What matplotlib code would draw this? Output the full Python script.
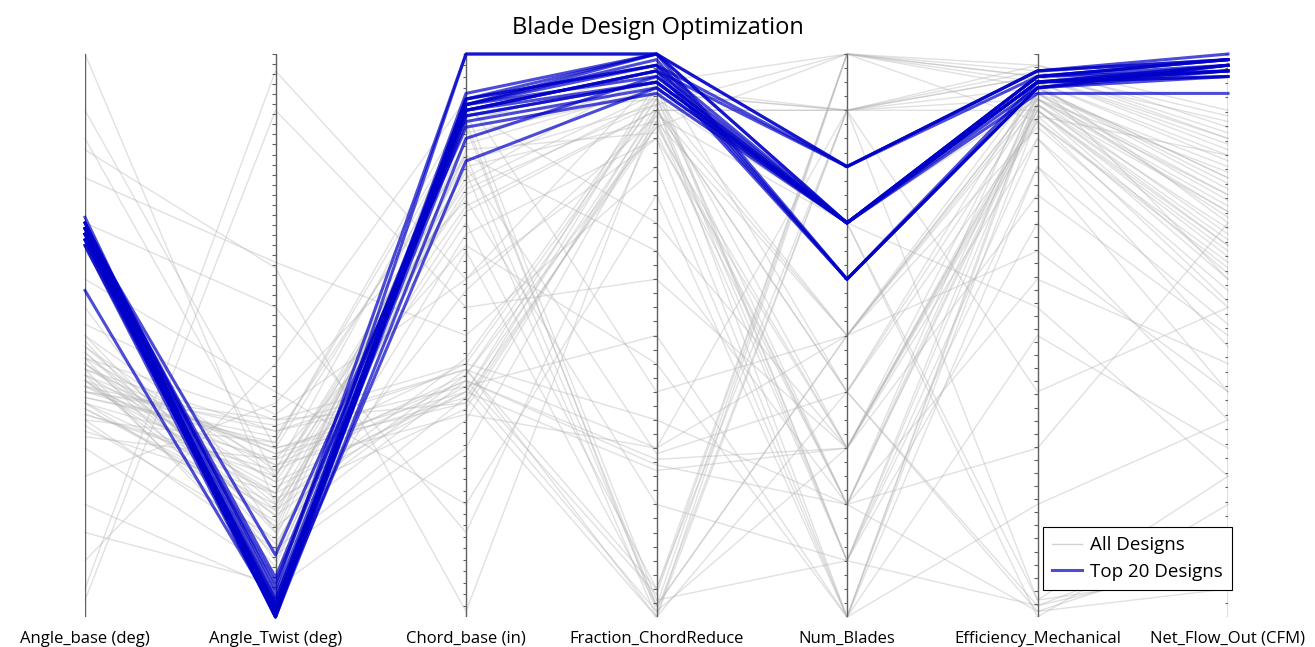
import numpy as np
import matplotlib.pyplot as plt
from matplotlib.lines import Line2D

# parallel-coordinates chart, every axis already scaled to 0..1
axis_names = ['Angle_base (deg)', 'Angle_Twist (deg)', 'Chord_base (in)',
              'Fraction_ChordReduce', 'Num_Blades', 'Efficiency_Mechanical',
              'Net_Flow_Out (CFM)']

# all designs (grey)
all_angle_base = [0.42, 0.45, 0.38, 0.48, 0.40, 1.00, 0.83, 0.05, 0.35, 0.44,
                  0.50, 0.41, 0.37, 0.46, 0.30, 0.55, 0.78, 0.03, 0.43, 0.39,
                  0.47, 0.36, 0.20, 0.42, 0.60, 0.44, 0.33, 0.49, 0.40, 0.10,
                  0.45, 0.38, 0.90, 0.41, 0.52, 0.34, 0.46, 0.25, 0.43, 0.39,
                  0.48, 0.36, 0.70, 0.42, 0.44, 0.32, 0.47, 0.15, 0.40, 0.45,
                  0.37, 0.50, 0.41, 0.65, 0.38, 0.43, 0.85, 0.46, 0.35, 0.42]
all_twist = [0.22, 0.18, 0.28, 0.25, 0.30, 0.20, 0.62, 0.97, 0.12, 0.33,
             0.15, 0.27, 0.20, 0.35, 0.08, 0.10, 0.63, 0.90, 0.24, 0.31,
             0.19, 0.26, 0.05, 0.16, 0.40, 0.29, 0.22, 0.13, 0.34, 0.45,
             0.21, 0.17, 0.30, 0.23, 0.36, 0.14, 0.27, 0.38, 0.11, 0.32,
             0.20, 0.25, 0.55, 0.30, 0.09, 0.28, 0.16, 0.06, 0.35, 0.24,
             0.19, 0.26, 0.33, 0.15, 0.22, 0.29, 0.25, 0.12, 0.31, 0.18]
all_chord = [0.40, 0.82, 0.42, 0.75, 0.38, 0.70, 0.01, 0.60, 0.85, 0.44,
             0.90, 0.36, 0.78, 0.45, 0.65, 0.80, 0.50, 0.55, 0.40, 0.88,
             0.72, 0.42, 0.30, 0.86, 0.20, 0.39, 0.76, 0.68, 0.44, 0.92,
             0.37, 0.80, 0.84, 0.41, 0.60, 0.87, 0.43, 0.74, 0.35, 0.82,
             0.46, 0.79, 0.15, 0.40, 0.89, 0.66, 0.42, 0.83, 0.38, 0.73,
             0.44, 0.88, 0.41, 0.58, 0.81, 0.45, 0.77, 0.39, 0.90, 0.43]
all_fraction = [0.90, 0.02, 0.28, 0.92, 0.88, 0.05, 0.90, 0.85, 0.95, 0.00,
                0.70, 0.30, 0.97, 0.92, 0.02, 0.88, 0.80, 0.60, 0.95, 0.01,
                0.90, 0.27, 0.90, 0.93, 0.75, 0.00, 0.91, 0.85, 0.05, 0.40,
                0.89, 0.29, 0.94, 0.50, 0.96, 0.02, 0.87, 0.20, 0.91, 0.65,
                0.93, 0.00, 0.88, 0.26, 0.92, 0.45, 0.04, 0.86, 0.94, 0.90,
                0.30, 0.97, 0.01, 0.89, 0.91, 0.35, 0.93, 0.87, 0.03, 0.92]
all_blades = [0.9, 1.0, 0.3, 0.5, 0.2, 0.9, 0.4, 0.0, 0.1, 1.0,
              0.3, 0.9, 0.7, 0.2, 0.5, 0.1, 0.0, 0.3, 1.0, 0.9,
              0.4, 0.2, 0.5, 0.7, 0.0, 0.9, 0.1, 0.3, 1.0, 0.5,
              0.2, 0.4, 0.9, 0.0, 0.7, 0.5, 0.3, 0.1, 1.0, 0.2,
              0.9, 0.4, 0.5, 0.3, 0.7, 0.0, 1.0, 0.2, 0.1, 0.9,
              0.5, 0.4, 0.3, 0.7, 0.0, 0.2, 0.9, 1.0, 0.1, 0.3]
all_efficiency = [0.92, 0.95, 0.88, 0.93, 0.90, 0.97, 0.02, 0.80, 0.91, 0.96,
                  0.85, 0.94, 0.03, 0.60, 0.92, 0.70, 0.89, 0.95, 0.98, 0.90,
                  0.01, 0.93, 0.87, 0.92, 0.50, 0.96, 0.02, 0.75, 0.94, 0.91,
                  0.97, 0.88, 0.40, 0.93, 0.00, 0.95, 0.90, 0.85, 0.96, 0.30,
                  0.98, 0.92, 0.65, 0.89, 0.94, 0.20, 0.97, 0.91, 0.80, 0.03,
                  0.93, 0.95, 0.90, 0.55, 0.92, 0.01, 0.96, 0.88, 0.94, 0.91]
all_flow = [0.75, 0.70, 0.62, 0.80, 0.66, 0.85, 0.10, 0.40, 0.72, 0.88,
            0.55, 0.78, 0.25, 0.45, 0.68, 0.35, 0.82, 0.60, 0.90, 0.65,
            0.05, 0.74, 0.58, 0.79, 0.30, 0.83, 0.15, 0.50, 0.76, 0.69,
            0.86, 0.63, 0.55, 0.71, 0.20, 0.81, 0.64, 0.48, 0.84, 0.70,
            0.87, 0.73, 0.40, 0.60, 0.77, 0.35, 0.89, 0.67, 0.52, 0.08,
            0.75, 0.82, 0.61, 0.25, 0.72, 0.12, 0.85, 0.56, 0.78, 0.66]

# top 20 designs (blue)
top_angle_base = [0.70, 0.69, 0.68, 0.69, 0.67, 0.70, 0.68, 0.66, 0.69, 0.68,
                  0.71, 0.67, 0.69, 0.68, 0.58, 0.70, 0.66, 0.69, 0.68, 0.67]
top_twist = [0.01, 0.02, 0.00, 0.03, 0.01, 0.05, 0.00, 0.02, 0.07, 0.01,
             0.00, 0.03, 0.11, 0.02, 0.01, 0.04, 0.00, 0.02, 0.06, 0.01]
top_chord = [0.91, 0.90, 0.92, 0.89, 0.93, 1.00, 0.91, 0.88, 0.90, 0.92,
             1.00, 0.89, 0.87, 0.91, 0.81, 0.90, 0.85, 0.92, 0.91, 0.90]
top_fraction = [1.00, 0.97, 0.98, 0.95, 1.00, 1.00, 0.96, 0.94, 0.97, 0.98,
                1.00, 0.95, 0.93, 0.99, 0.94, 0.97, 0.96, 1.00, 0.98, 0.95]
top_blades = [0.7, 0.7, 0.8, 0.7, 0.6, 0.8, 0.7, 0.7, 0.6, 0.7,
              0.8, 0.7, 0.7, 0.6, 0.7, 0.8, 0.7, 0.7, 0.6, 0.7]
top_efficiency = [0.96, 0.95, 0.97, 0.95, 0.94, 0.97, 0.96, 0.95, 0.94, 0.96,
                  0.97, 0.95, 0.94, 0.95, 0.93, 0.96, 0.95, 0.96, 0.94, 0.95]
top_flow = [0.99, 0.98, 0.99, 0.97, 0.98, 1.00, 0.97, 0.96, 0.98, 0.99,
            0.99, 0.97, 0.96, 0.98, 0.93, 0.99, 0.97, 0.98, 0.97, 0.96]

# number of minor tick intervals drawn on each vertical axis
tick_counts = [28, 56, 49, 40, 40, 43, 39]

all_designs = np.array([all_angle_base, all_twist, all_chord, all_fraction,
                        all_blades, all_efficiency, all_flow])
top_designs = np.array([top_angle_base, top_twist, top_chord, top_fraction,
                        top_blades, top_efficiency, top_flow])
x = np.arange(len(axis_names))

plt.rcParams['font.family'] = ['Open Sans', 'DejaVu Sans']
fig = plt.figure(figsize=(13.15, 6.47), dpi=100)
ax = fig.add_axes([85 / 1315, 30 / 647, (1228 - 85) / 1315, 563 / 647])

for j in range(all_designs.shape[1]):
    ax.plot(x, all_designs[:, j], color='#b4b4b4', alpha=0.4, lw=1.0,
            clip_on=False, zorder=1)
for j in range(top_designs.shape[1]):
    ax.plot(x, top_designs[:, j], color='#0000c8', alpha=0.7, lw=2.2,
            clip_on=False, zorder=3)

# vertical axes with small ticks on the left
for i, n in enumerate(tick_counts):
    ax.axvline(i, color='#606060', lw=1.0, zorder=2)
    ty = np.linspace(0, 1, n + 1)
    ax.hlines(ty, i - 0.018, i, color='#606060', lw=0.8, zorder=2)

ax.set_xlim(0, 6)
ax.set_ylim(0, 1)
ax.set_xticks(x)
ax.set_xticklabels(axis_names, fontsize=12)
ax.tick_params(axis='x', length=0, pad=10)
ax.set_yticks([])
for s in ax.spines.values():
    s.set_visible(False)

fig.suptitle('Blade Design Optimization', fontsize=17, y=0.975)

handles = [Line2D([], [], color='#b4b4b4', alpha=0.6, lw=1.0),
           Line2D([], [], color='#0000c8', alpha=0.7, lw=2.2)]
leg = ax.legend(handles, ['All Designs', 'Top 20 Designs'], loc='lower right',
                bbox_to_anchor=(1.0035, 0.048), borderaxespad=0,
                fontsize=13.5, fancybox=False, framealpha=1,
                handlelength=1.6, borderpad=0.5, labelspacing=0.45,
                handletextpad=0.4)
leg.get_frame().set_edgecolor('black')
leg.get_frame().set_linewidth(0.8)

fig.savefig('out.png', dpi=100)
